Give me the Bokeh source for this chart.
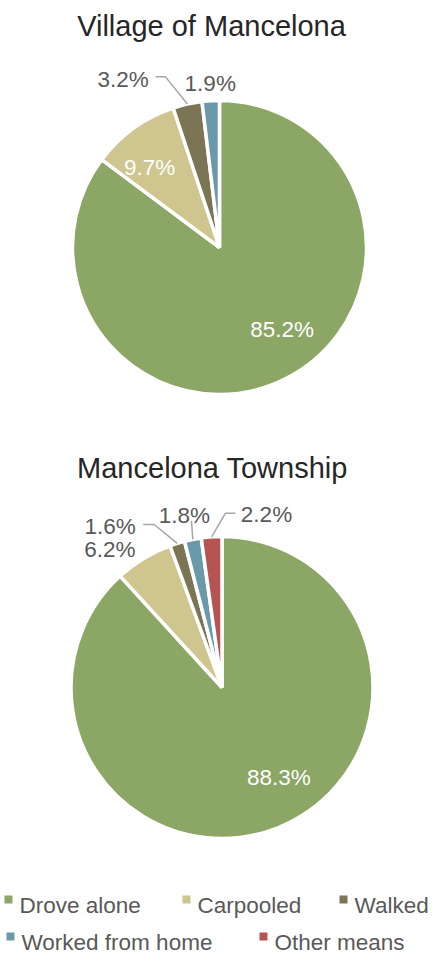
import math
from bokeh.plotting import figure
from bokeh.models import Range1d
from bokeh.core.properties import value
from bokeh.embed import file_html
from bokeh.resources import INLINE

# ---------------- data ----------------
categories = ["Drove alone", "Carpooled", "Walked", "Worked from home", "Other means"]
colors = ["#8CA665", "#CEC68E", "#7B7555", "#6A9AAA", "#B55452"]
village_title = "Village of Mancelona"
village_values = [85.2, 9.7, 3.2, 1.9, 0.0]
township_title = "Mancelona Township"
township_values = [88.3, 6.2, 1.6, 1.8, 2.2]

# ---------------- layout (window px of the 445x966 page; figure sits at an 8px margin) ----------------
H = 966
FONT = "Liberation Sans"
LABEL_FS = 22.5
LEGEND_FS = 22.5
TITLE_FS = 29

def sy(y):  # window y -> data y
    return H - y

p = figure(width=429, height=950, output_backend="svg", toolbar_location=None,
           x_range=Range1d(8, 437), y_range=Range1d(8, 958), min_border=0)
p.axis.visible = False
p.grid.visible = False
p.outline_line_color = None
p.background_fill_color = "white"
p.border_fill_color = "white"

# label spec per slice: (kind, radial factor, dx, dy, leader) ; leader = (elbow offset, end offset) rel. to label
pies = [
    dict(title=village_title, values=village_values, cx=227, cy=255, r=147, title_x=219, title_base=33,
         labels=[("in", 0.6, 23, -5, None),
                 ("in", 0.72, -8, -2, None),
                 ("out", 1.2, -58, -4, ((42.5, 5.5), (32.5, 5.5))),
                 ("out", 1.17, 1, 0, None),
                 None]),
    dict(title=township_title, values=township_values, cx=229.5, cy=695, r=151, title_x=220, title_base=475,
         labels=[("in", 0.6, 24, -3, None),
                 ("out", 1.2, -18, 9, None),
                 ("out", 1.2, -58, 3.5, ((44, 6.5), (33, 6.5))),
                 ("out", 1.2, -2.5, -2, ((7, 13), (7, 13))),
                 ("out", 1.2, 57, 0, ((-41, 6.5), (-31, 6.5)))]),
]

for pie in pies:
    vals = pie["values"]
    total = sum(vals)
    cx, cy, r = pie["cx"], pie["cy"], pie["r"]
    cum = 0.0
    for i, v in enumerate(vals):
        if v <= 0:
            continue
        t0 = cum / total * 360.0
        t1 = (cum + v) / total * 360.0
        cum += v
        p.wedge(x=cx, y=sy(cy), radius=r,
                start_angle=math.radians(90 - t1), end_angle=math.radians(90 - t0),
                direction="anticlock", fill_color=colors[i], line_color="white", line_width=3.5)
        spec = pie["labels"][i]
        if spec is None:
            continue
        kind, k, dx, dy, leader = spec
        tm = math.radians((t0 + t1) / 2)
        ux, uy = math.sin(tm), -math.cos(tm)  # window direction
        lx = cx + r * k * ux + dx
        ly = cy + r * k * uy + dy
        txt = f"{v:.1f}%"
        p.text(x=[lx], y=[sy(ly + 0.358 * LABEL_FS)], text=[txt],
               text_font=value(FONT), text_font_size=f"{LABEL_FS}px",
               text_color="white" if kind == "in" else "#595959",
               text_align="center", text_baseline="alphabetic")
        if leader is not None:
            (ex, ey), (nx, ny) = leader
            edge = (cx + r * ux, cy + r * uy)
            xs = [edge[0], lx + ex, lx + nx]
            ys = [sy(edge[1]), sy(ly + ey), sy(ly + ny)]
            p.line(xs, ys, line_color="#A6A6A6", line_width=1.5)
    p.text(x=[pie["title_x"]], y=[sy(pie["title_base"])], text=[pie["title"]],
           text_font=value(FONT), text_font_size=f"{TITLE_FS}px", text_color="#262626",
           text_align="center", text_baseline="alphabetic")

# ---------------- legend ----------------
legend_pos = [(16, 905), (194, 905), (351, 905), (18, 942), (271, 942)]
for i, name in enumerate(categories):
    mx, my = legend_pos[i]
    p.scatter(x=[mx], y=[sy(my + 2)], marker="square", size=8,
              fill_color=colors[i], line_color=None)
    p.text(x=[mx + 11], y=[sy(my + 0.358 * LEGEND_FS)], text=[name],
           text_font=value(FONT), text_font_size=f"{LEGEND_FS}px", text_color="#595959",
           text_align="left", text_baseline="alphabetic")

open("out.html", "w").write(file_html(p, INLINE))
